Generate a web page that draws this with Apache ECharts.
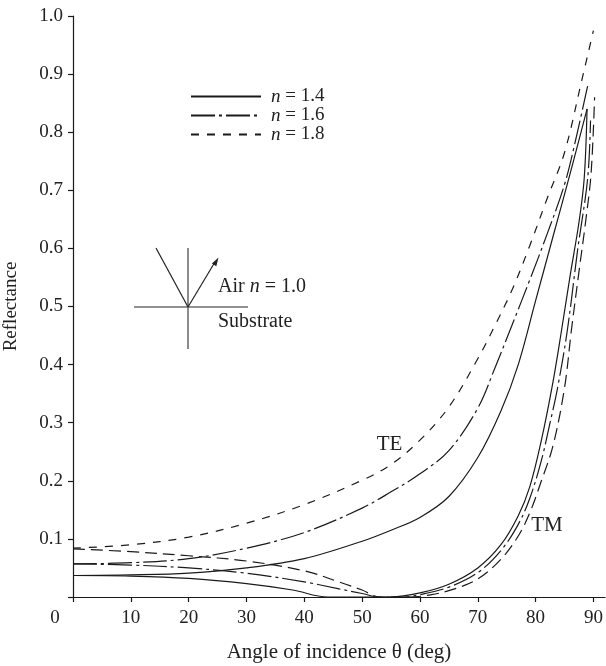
<!DOCTYPE html>
<html>
<head>
<meta charset="utf-8">
<script src="https://cdn.jsdelivr.net/npm/echarts@6/dist/echarts.min.js"></script>
<style>
  html, body { margin: 0; padding: 0; background: #fff; }
  #chart { width: 606px; height: 666px; }
</style>
</head>
<body>
<div id="chart"></div>
<script>
// Fresnel reflectance of an air/substrate interface vs. angle of incidence
const angleTicks = [0, 10, 20, 30, 40, 50, 60, 70, 80, 90];
const indexLabels = ['1.4', '1.6', '1.8'];

// TE (s) polarisation: [angle (deg), reflectance]
const te14 = [[0,0.037],[10,0.038],[20,0.041],[30,0.050],[40,0.066],[50,0.096],[55,0.115],[60,0.137],[65,0.173],[70,0.24],[74,0.32],[77,0.40],[80,0.51],[83,0.62],[86,0.73],[88.9,0.84]];
const te16 = [[0,0.057],[10,0.059],[20,0.066],[30,0.084],[40,0.111],[50,0.153],[55,0.181],[60,0.212],[65,0.252],[70,0.325],[73,0.395],[76,0.47],[79,0.546],[82,0.625],[85,0.71],[87,0.79],[89,0.88]];
const te18 = [[0,0.084],[10,0.090],[20,0.103],[30,0.127],[40,0.159],[50,0.201],[55,0.228],[60,0.27],[65,0.327],[70,0.41],[73,0.468],[76,0.53],[79,0.605],[82,0.686],[85,0.765],[88,0.89],[90,0.975]];

// TM (p) polarisation
const tm14 = [[0,0.037],[10,0.036],[20,0.032],[30,0.023],[38,0.012],[44,0],[55,0],[60,0.007],[65,0.022],[70,0.05],[74,0.09],[77,0.14],[79,0.19],[81,0.27],[83,0.37],[84.5,0.46],[86,0.555],[87.5,0.645],[88.4,0.72],[88.9,0.84]];
const tm16 = [[0,0.057],[10,0.055],[20,0.050],[30,0.041],[40,0.026],[46,0.014],[50,0.006],[53,0],[57,0],[60,0.004],[65,0.017],[70,0.042],[74,0.08],[77,0.125],[79,0.17],[81,0.235],[82.5,0.3],[83.8,0.36],[85.5,0.46],[87.3,0.6],[89,0.72],[89.5,0.82]];
const tm18 = [[0,0.083],[10,0.078],[20,0.071],[30,0.062],[40,0.045],[46,0.026],[50,0.012],[53,0],[58,0],[62,0.004],[66,0.014],[70,0.031],[74,0.065],[77,0.105],[79,0.145],[81,0.2],[83,0.26],[85,0.36],[86.2,0.46],[87.5,0.56],[88.7,0.65],[89.6,0.73],[90.2,0.86]];

const FONT = "'Liberation Serif', 'DejaVu Serif', serif";
const INK = '#1a1a1a';
const TXT = '#222';
const names = indexLabels.map(v => 'n = ' + v);

const teDash = ['solid', [24, 4, 3, 4], [8, 8]];
const tmDash = ['solid', [24, 4, 3, 4], [12, 6]];

function curve(name, data, dash) {
  return {
    name: name,
    type: 'line',
    data: data,
    symbol: 'none',
    showSymbol: false,
    smooth: 0.35,
    silent: true,
    itemStyle: { color: INK },
    lineStyle: { color: INK, width: 1.2, type: dash },
    emphasis: { disabled: true }
  };
}

const series = [
  curve(names[0], te14, teDash[0]),
  curve(names[1], te16, teDash[1]),
  curve(names[2], te18, teDash[2]),
  curve(names[0], tm14, tmDash[0]),
  curve(names[1], tm16, tmDash[1]),
  curve(names[2], tm18, tmDash[2])
];

function label(text, x, y, size) {
  return {
    type: 'text', x: x, y: y, silent: true,
    style: {
      text: text, align: 'left', verticalAlign: 'middle',
      fontFamily: FONT, fontSize: size, fill: TXT,
      rich: { i: { fontFamily: FONT, fontSize: size, fontStyle: 'italic', fill: TXT } }
    }
  };
}

const chart = echarts.init(document.getElementById('chart'), null, { renderer: 'canvas' });

chart.setOption({
  animation: false,
  backgroundColor: '#fff',
  grid: { left: 73, right: 1, top: 16, bottom: 69, outerBoundsMode: 'none', containLabel: false },
  legend: {
    data: names,
    orient: 'vertical',
    left: 190,
    top: 87,
    padding: 0,
    itemWidth: 70,
    itemHeight: 10,
    itemGap: 0,
    selectedMode: false,
    itemStyle: { opacity: 0 },
    formatter: name => '{i|n} = ' + name.split('= ')[1],
    textStyle: {
      fontFamily: FONT, fontSize: 19, color: TXT,
      rich: {
        i: { fontFamily: FONT, fontSize: 19, fontStyle: 'italic', color: TXT, padding: [0, 0, 0, 5] }
      }
    }
  },
  xAxis: {
    type: 'value',
    min: 0,
    max: 92,
    interval: 10,
    name: 'Angle of incidence θ (deg)',
    nameLocation: 'middle',
    nameGap: 45,
    nameTextStyle: { fontFamily: FONT, fontSize: 21, color: TXT },
    axisLine: { onZero: false, lineStyle: { color: INK, width: 1.2 } },
    axisTick: { show: true, length: 5, inside: false, customValues: angleTicks, lineStyle: { color: INK, width: 1.2 } },
    axisLabel: {
      customValues: angleTicks,
      margin: 12,
      fontFamily: FONT, fontSize: 19, color: TXT,
      formatter: v => v === 0 ? '{z|0}' : String(v),
      rich: { z: { fontFamily: FONT, fontSize: 19, color: TXT, padding: [0, 36, 0, 0] } }
    },
    splitLine: { show: false }
  },
  yAxis: {
    type: 'value',
    min: 0,
    max: 1,
    interval: 0.1,
    name: 'Reflectance',
    nameLocation: 'middle',
    nameRotate: 90,
    nameGap: 52,
    nameTextStyle: { fontFamily: FONT, fontSize: 19, color: TXT },
    axisLine: { show: true, onZero: false, lineStyle: { color: INK, width: 1.2 } },
    axisTick: { show: true, length: 5, inside: false, lineStyle: { color: INK, width: 1.2 } },
    axisLabel: {
      margin: 10,
      fontFamily: FONT, fontSize: 19, color: TXT,
      formatter: v => v === 0 ? '' : v.toFixed(1)
    },
    splitLine: { show: false }
  },
  graphic: [
    // inset sketch of the interface
    { type: 'line', silent: true, shape: { x1: 134, y1: 307, x2: 248, y2: 307 }, style: { stroke: '#222', lineWidth: 1.2 } },
    { type: 'line', silent: true, shape: { x1: 188, y1: 248, x2: 188, y2: 349 }, style: { stroke: '#666', lineWidth: 1.5 } },
    { type: 'line', silent: true, shape: { x1: 156, y1: 248, x2: 188, y2: 307 }, style: { stroke: '#222', lineWidth: 1.2 } },
    { type: 'line', silent: true, shape: { x1: 188, y1: 307, x2: 215, y2: 262 }, style: { stroke: '#222', lineWidth: 1.2 } },
    { type: 'polygon', silent: true, shape: { points: [[218.5, 257.5], [216.3, 266.3], [211.9, 263.6]] }, style: { fill: '#222' } },
    label('Air {i|n} = 1.0', 218, 287, 20),
    label('Substrate', 218, 321.5, 20),
    // polarisation tags
    {
      type: 'text', x: 389.5, y: 444, silent: true,
      style: { text: 'TE', align: 'center', verticalAlign: 'middle', fontFamily: FONT, fontSize: 21, fill: TXT }
    },
    {
      type: 'text', x: 547, y: 525.5, silent: true,
      style: { text: 'TM', align: 'center', verticalAlign: 'middle', fontFamily: FONT, fontSize: 21, fill: TXT }
    }
  ],
  series: series
});
</script>
</body>
</html>
